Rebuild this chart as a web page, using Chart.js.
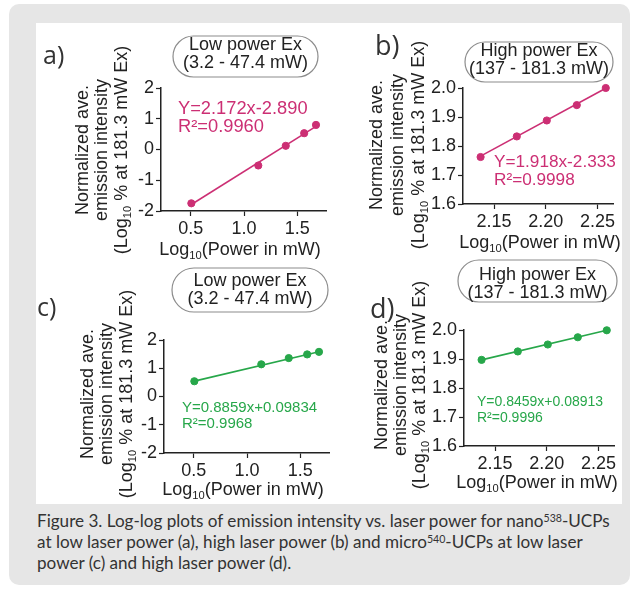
<!DOCTYPE html>
<html>
<head>
<meta charset="utf-8">
<script src="https://cdn.jsdelivr.net/npm/chart.js@4.4.0/dist/chart.umd.min.js"></script>
<style>
  body { margin: 0; width: 639px; height: 591px; background: #fff; position: relative; overflow: hidden; }
  #card { position: absolute; left: 9px; top: 4px; width: 621px; height: 581px; background: #e6e6e6; border-radius: 10px; }
  #panel { position: absolute; left: 36px; top: 23px; width: 586px; height: 481px; background: #fff; }
  canvas { position: absolute; }
  #caption { position: absolute; left: 37px; top: 510px; font-family: Lato, "Open Sans", sans-serif; font-size: 17px; line-height: 21px; color: #333; white-space: nowrap; }
  #caption sup { font-size: 0.62em; vertical-align: 0.5em; line-height: 0; }
</style>
</head>
<body>
<div id="card"></div>
<div id="panel"></div>
<canvas id="chartA" width="300" height="242" style="left:36px;top:23px"></canvas>
<canvas id="chartB" width="286" height="242" style="left:336px;top:23px"></canvas>
<canvas id="chartC" width="300" height="239" style="left:36px;top:265px"></canvas>
<canvas id="chartD" width="286" height="249" style="left:336px;top:255px"></canvas>
<div id="caption">
  <div><span id="cap1">Figure 3. Log-log plots of emission intensity vs. laser power for nano<sup>538</sup>-UCPs</span></div>
  <div>at low laser power (a), high laser power (b) and micro<sup>540</sup>-UCPs at low laser</div>
  <div>power (c) and high laser power (d).</div>
</div>

<script>
// log10 of excitation power (mW)
var xLow  = [0.505, 1.134, 1.392, 1.565, 1.676];
var xHigh = [2.137, 2.172, 2.201, 2.230, 2.258];

// normalized ave. emission intensity (log10 %)
var yA = [-1.75, -0.52, 0.12, 0.53, 0.80];   // nano538, low power
var yB = [1.762, 1.833, 1.888, 1.941, 2.000]; // nano538, high power
var yC = [0.54, 1.14, 1.36, 1.49, 1.58];     // micro540, low power
var yD = [1.897, 1.926, 1.950, 1.975, 1.999]; // micro540, high power

// fitted line, value at first and last x
var fitA = [-1.79, 0.75];
var fitB = [1.765, 1.999];
var fitC = [0.545, 1.583];
var fitD = [1.897, 1.999];

var eqA = ['Y=2.172x-2.890', 'R\u00B2=0.9960'];
var eqB = ['Y=1.918x-2.333', 'R\u00B2=0.9998'];
var eqC = ['Y=0.8859x+0.09834', 'R\u00B2=0.9968'];
var eqD = ['Y=0.8459x+0.08913', 'R\u00B2=0.9996'];

var lowTicksX  = [0.5, 1.0, 1.5];
var lowTicksY  = [-2, -1, 0, 1, 2];
var highTicksX = [2.15, 2.20, 2.25];
var highTicksY = [1.6, 1.7, 1.8, 1.9, 2.0];

var lowLabel  = ['Low power Ex', '(3.2 - 47.4 mW)'];
var highLabel = ['High power Ex', '(137 - 181.3 mW)'];

var xTitle = [['Log', 0], ['10', 1], ['(Power in mW)', 0]];
var yTitle = [
  [['Normalized ave.', 0]],
  [['emission intensity', 0]],
  [['(Log', 0], ['10', 1], [' % at 181.3 mW Ex)', 0]]
];

var FONT = '"Liberation Sans", Arial, sans-serif';
var INK = '#222';
var PINK = '#cc2f74';
var GREEN = '#27a74a';

// text with subscripts, centred on cx
function rich(ctx, parts, cx, cy, size) {
  var w = 0;
  parts.forEach(function (p) {
    ctx.font = (p[1] ? size * 0.62 : size) + 'px ' + FONT;
    w += ctx.measureText(p[0]).width;
  });
  var x = cx - w / 2;
  ctx.textAlign = 'left';
  ctx.textBaseline = 'middle';
  parts.forEach(function (p) {
    ctx.font = (p[1] ? size * 0.62 : size) + 'px ' + FONT;
    ctx.fillText(p[0], x, cy + (p[1] ? size * 0.32 : 0));
    x += ctx.measureText(p[0]).width;
  });
}

function pillPath(ctx, x0, y0, x1, y1) {
  var r = (y1 - y0) / 2;
  ctx.beginPath();
  ctx.moveTo(x0 + r, y0);
  ctx.lineTo(x1 - r, y0);
  ctx.arc(x1 - r, y0 + r, r, -Math.PI / 2, Math.PI / 2);
  ctx.lineTo(x0 + r, y1);
  ctx.arc(x0 + r, y0 + r, r, Math.PI / 2, Math.PI * 1.5);
  ctx.closePath();
}

// everything drawn in page coordinates
function deco(p) {
  return {
    id: 'deco',
    afterDraw: function (chart) {
      var ctx = chart.ctx;
      ctx.save();
      ctx.translate(-p.box[0], -p.box[1]);

      ctx.fillStyle = '#333';
      ctx.font = p.letterSize + 'px "Open Sans", sans-serif';
      ctx.textAlign = 'left';
      ctx.textBaseline = 'middle';
      ctx.fillText(p.letter, p.letterAt[0], p.letterAt[1]);

      var q = p.pill;
      pillPath(ctx, q[0], q[1], q[2], q[3]);
      ctx.fillStyle = '#fff';
      ctx.fill();
      ctx.strokeStyle = '#8c8c8c';
      ctx.lineWidth = 1.2;
      ctx.stroke();
      ctx.fillStyle = INK;
      ctx.font = '18px ' + FONT;
      ctx.textAlign = 'center';
      ctx.fillText(p.pillText[0], (q[0] + q[2]) / 2, p.pillLines[0]);
      ctx.fillText(p.pillText[1], (q[0] + q[2]) / 2, p.pillLines[1]);

      ctx.fillStyle = p.color;
      ctx.font = p.eqSize + 'px ' + FONT;
      ctx.textAlign = 'left';
      ctx.fillText(p.eq[0], p.eqAt[0], p.eqAt[1]);
      ctx.fillText(p.eq[1], p.eqAt[0], p.eqAt[2]);

      ctx.fillStyle = INK;
      rich(ctx, xTitle, p.xTitleAt[0], p.xTitleAt[1], 18);
      yTitle.forEach(function (line, i) {
        ctx.save();
        ctx.translate(p.yTitleX[i], p.yTitleY);
        ctx.rotate(-Math.PI / 2);
        rich(ctx, line, 0, 0, 18);
        ctx.restore();
      });
      ctx.restore();
    }
  };
}

function axis(min, max, tickVals, fmt, fit) {
  return {
    type: 'linear',
    min: min,
    max: max,
    afterBuildTicks: function (s) { s.ticks = tickVals.map(function (v) { return { value: v }; }); },
    afterFit: fit,
    grid: { drawOnChartArea: false, tickLength: 5, tickColor: INK, tickWidth: 1.2 },
    border: { color: INK, width: 1.5 },
    ticks: { color: INK, padding: 2, font: { size: 18, family: FONT }, callback: fmt }
  };
}

function makeChart(id, p) {
  var box = p.box, area = p.area;
  var pts = p.xs.map(function (x, i) { return { x: x, y: p.ys[i] }; });
  var line = [{ x: p.xs[0], y: p.fit[0] }, { x: p.xs[p.xs.length - 1], y: p.fit[1] }];
  return new Chart(document.getElementById(id), {
    type: 'scatter',
    data: {
      datasets: [{
        data: line, showLine: true, borderColor: p.color, borderWidth: 1.6,
        pointRadius: 0, clip: false
      }, {
        data: pts, showLine: false, backgroundColor: p.color, borderColor: p.color,
        pointRadius: 3.6, clip: false
      }]
    },
    options: {
      responsive: false,
      animation: false,
      events: [],
      layout: { padding: { left: 0, bottom: 0, top: area[2] - box[1], right: box[0] + box[2] - area[1] } },
      plugins: { legend: { display: false }, tooltip: { enabled: false } },
      scales: {
        x: axis(p.xRange[0], p.xRange[1], p.xTicks, p.xFmt, function (s) { s.height = box[1] + box[3] - area[3]; }),
        y: axis(p.yRange[0], p.yRange[1], p.yTicks, p.yFmt, function (s) { s.width = area[0] - box[0]; })
      }
    },
    plugins: [deco(p)]
  });
}

function f1(v) { return Number(v).toFixed(1); }
function f2(v) { return Number(v).toFixed(2); }
function f0(v) { return String(v); }

makeChart('chartA', {
  box: [36, 23, 300, 242], area: [161, 326, 88, 211],
  xs: xLow, ys: yA, fit: fitA, color: PINK,
  xRange: [0.22, 1.77], yRange: [-2, 2], xTicks: lowTicksX, yTicks: lowTicksY, xFmt: f1, yFmt: f0,
  letter: 'a)', letterSize: 25, letterAt: [43, 57],
  pill: [173, 36, 318, 77], pillText: lowLabel, pillLines: [45, 63],
  eq: eqA, eqSize: 18.3, eqAt: [178, 108.5, 126.5],
  xTitleAt: [240, 250], yTitleX: [83, 102, 122], yTitleY: 150
});

makeChart('chartB', {
  box: [336, 23, 286, 242], area: [463, 613, 88, 204],
  xs: xHigh, ys: yB, fit: fitB, color: PINK,
  xRange: [2.12, 2.265], yRange: [1.6, 2.0], xTicks: highTicksX, yTicks: highTicksY, xFmt: f2, yFmt: f1,
  letter: 'b)', letterSize: 27, letterAt: [375, 47],
  pill: [465, 42, 613, 82], pillText: highLabel, pillLines: [51.5, 69.5],
  eq: eqB, eqSize: 17.2, eqAt: [494, 162.7, 180.5],
  xTitleAt: [540, 243], yTitleX: [377, 398, 419], yTitleY: 145
});

makeChart('chartC', {
  box: [36, 265, 300, 239], area: [164, 329, 340, 453],
  xs: xLow, ys: yC, fit: fitC, color: GREEN,
  xRange: [0.22, 1.77], yRange: [-2, 2], xTicks: lowTicksX, yTicks: lowTicksY, xFmt: f1, yFmt: f0,
  letter: 'c)', letterSize: 25, letterAt: [37, 309],
  pill: [172, 268, 328, 312], pillText: lowLabel, pillLines: [281.5, 299.5],
  eq: eqC, eqSize: 15, eqAt: [182, 408, 424],
  xTitleAt: [243, 490], yTitleX: [88, 107, 127], yTitleY: 394
});

makeChart('chartD', {
  box: [336, 255, 286, 249], area: [464, 614, 330, 446],
  xs: xHigh, ys: yD, fit: fitD, color: GREEN,
  xRange: [2.12, 2.265], yRange: [1.6, 2.0], xTicks: highTicksX, yTicks: highTicksY, xFmt: f2, yFmt: f1,
  letter: 'd)', letterSize: 27, letterAt: [370, 310],
  pill: [458, 260, 617, 302], pillText: highLabel, pillLines: [275, 293],
  eq: eqD, eqSize: 14, eqAt: [477, 402, 418],
  xTitleAt: [537, 483], yTitleX: [382, 401, 420], yTitleY: 385
});

// fit caption width to the reference (first line ~573px)
function fitCaption() {
  var cap = document.getElementById('caption');
  cap.style.fontSize = '17px';
  var w = document.getElementById('cap1').getBoundingClientRect().width;
  if (w > 0) cap.style.fontSize = (17 * 573 / w).toFixed(2) + 'px';
}
fitCaption();
if (document.fonts) document.fonts.ready.then(fitCaption);
</script>
</body>
</html>
